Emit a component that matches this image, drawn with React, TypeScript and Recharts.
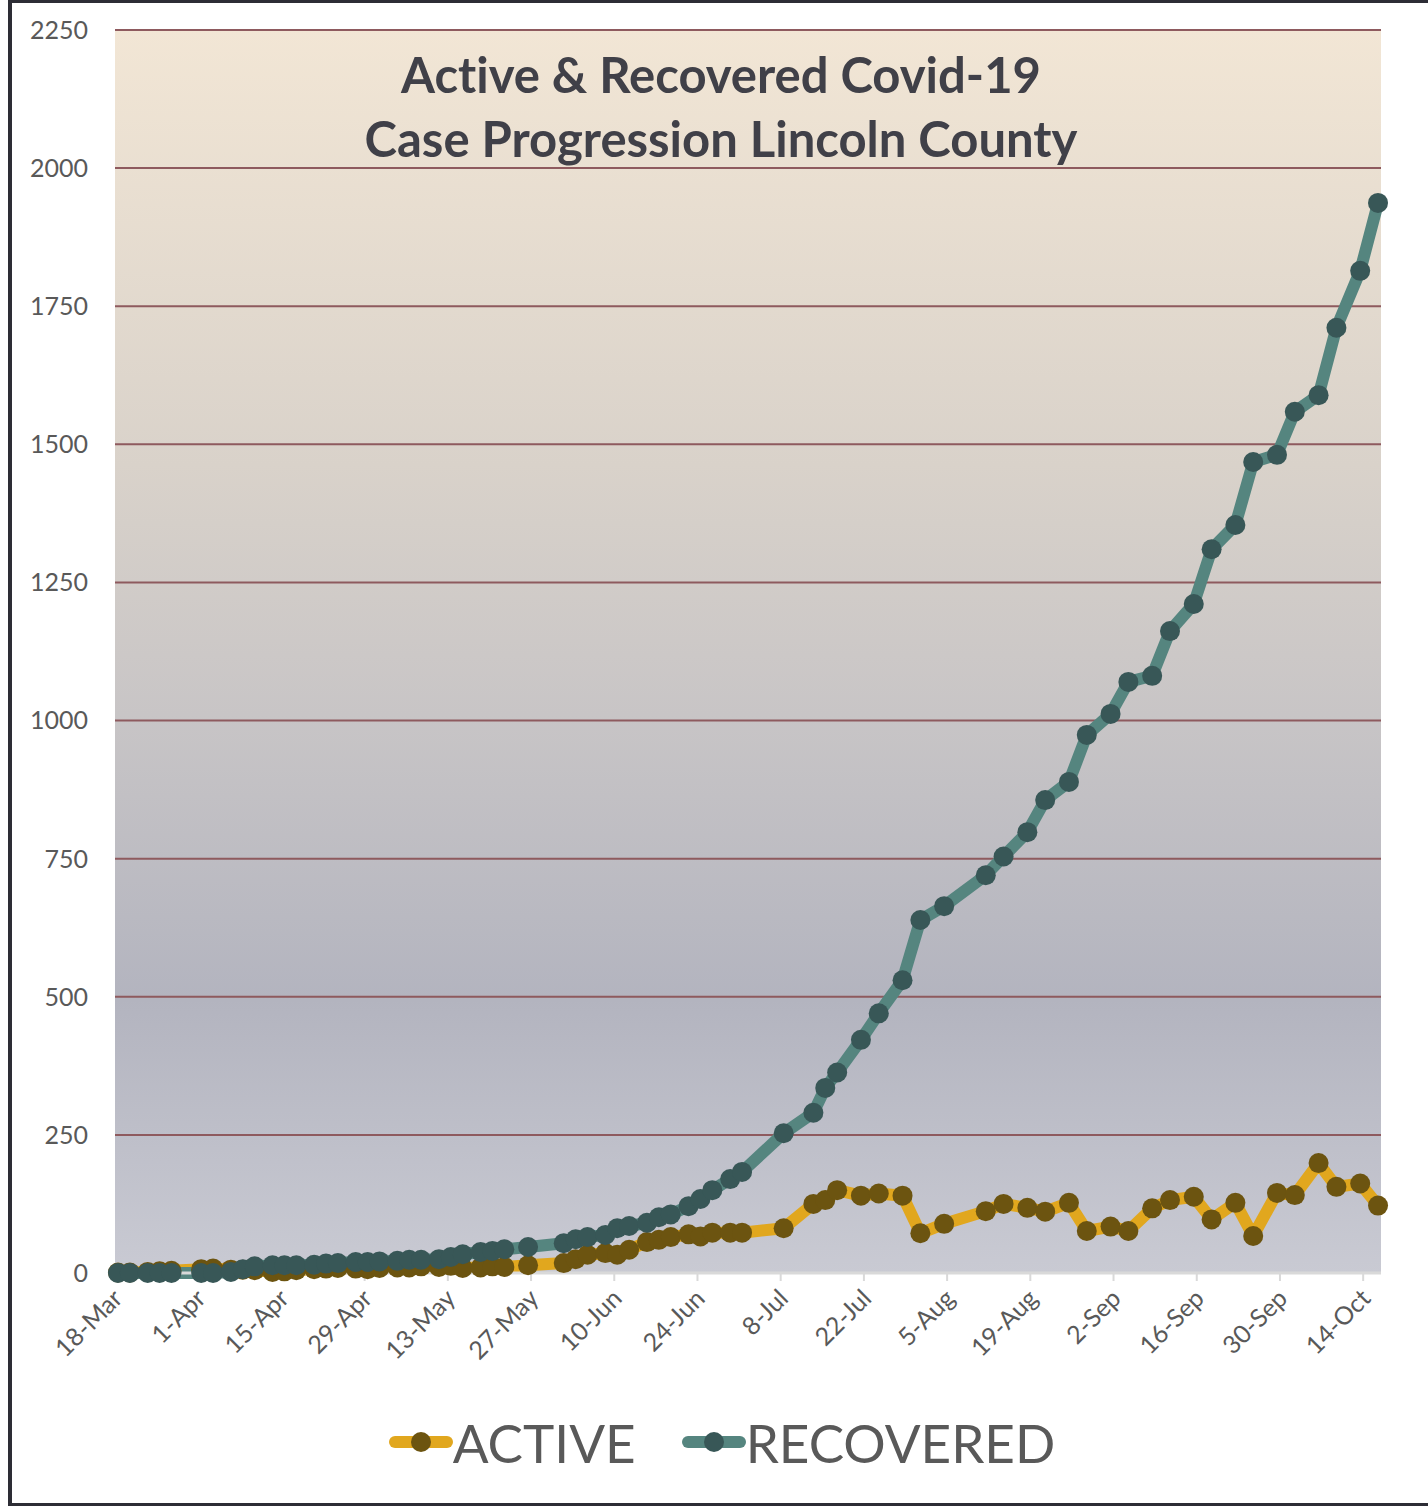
import { LineChart, Line, XAxis, YAxis, CartesianGrid, Legend } from "recharts";

// report dates (Mon/Wed/Fri, later Tue/Fri)
const DATES = [
  "2020-03-18", "2020-03-20", "2020-03-23", "2020-03-25", "2020-03-27",
  "2020-04-01", "2020-04-03", "2020-04-06", "2020-04-08", "2020-04-10",
  "2020-04-13", "2020-04-15", "2020-04-17", "2020-04-20", "2020-04-22",
  "2020-04-24", "2020-04-27", "2020-04-29", "2020-05-01", "2020-05-04",
  "2020-05-06", "2020-05-08", "2020-05-11", "2020-05-13", "2020-05-15",
  "2020-05-18", "2020-05-20", "2020-05-22", "2020-05-26", "2020-06-01",
  "2020-06-03", "2020-06-05", "2020-06-08", "2020-06-10", "2020-06-12",
  "2020-06-15", "2020-06-17", "2020-06-19", "2020-06-22", "2020-06-24",
  "2020-06-26", "2020-06-29", "2020-07-01", "2020-07-08", "2020-07-13",
  "2020-07-15", "2020-07-17", "2020-07-21", "2020-07-24", "2020-07-28",
  "2020-07-31", "2020-08-04", "2020-08-11", "2020-08-14", "2020-08-18",
  "2020-08-21", "2020-08-25", "2020-08-28", "2020-09-01", "2020-09-04",
  "2020-09-08", "2020-09-11", "2020-09-15", "2020-09-18", "2020-09-22",
  "2020-09-25", "2020-09-29", "2020-10-02", "2020-10-06", "2020-10-09",
  "2020-10-13", "2020-10-16",
];

const ACTIVE = [
  1, 1, 2, 3, 4,
  7, 8, 6, 6, 5,
  2, 3, 5, 7, 8,
  9, 8, 7, 9, 10,
  10, 12, 11, 13, 9,
  10, 12, 11, 14, 18,
  25, 33, 36, 33, 42,
  56, 60, 65, 70, 66,
  73, 73, 73, 81, 125,
  132, 150, 140, 144, 140,
  72, 89, 112, 125, 118,
  111, 127, 76, 84, 76,
  117, 132, 138, 97, 127,
  67, 145, 141, 199, 156,
  162, 122,
];

const RECOVERED = [
  0, 0, 0, 0, 0,
  0, 0, 2, 7, 12,
  14, 14, 14, 15, 17,
  18, 20, 20, 21, 22,
  24, 24, 25, 29, 34,
  38, 40, 43, 47, 54,
  61, 65, 69, 81, 85,
  91, 101, 106, 121, 134,
  150, 170, 183, 253, 290,
  335, 363, 422, 470, 530,
  639, 664, 720, 754, 798,
  856, 889, 974, 1012, 1070,
  1081, 1162, 1211, 1310, 1354,
  1468, 1481, 1559, 1589, 1711,
  1814, 1937,
];

// date axis ticks every 14 days from 18-Mar
const TICK_LABELS = [
  "18-Mar", "1-Apr", "15-Apr", "29-Apr", "13-May", "27-May", "10-Jun", "24-Jun",
  "8-Jul", "22-Jul", "5-Aug", "19-Aug", "2-Sep", "16-Sep", "30-Sep", "14-Oct",
];
const Y_TICKS = [0, 250, 500, 750, 1000, 1250, 1500, 1750, 2000, 2250];

const START = Date.parse(DATES[0]);
const DAY_MS = 86400000;
// Excel date axis puts each point in the middle of its day
const data = DATES.map((d, i) => ({
  day: Math.round((Date.parse(d) - START) / DAY_MS) + 0.5,
  active: ACTIVE[i],
  recovered: RECOVERED[i],
}));
const xTicks = TICK_LABELS.map((_, i) => i * 14);

const SERIES = [
  { key: "active", name: "ACTIVE", line: "#e1a71e", dot: "#6c5410" },
  { key: "recovered", name: "RECOVERED", line: "#55857f", dot: "#385757" },
];

const FONT = "Lato, 'Open Sans', sans-serif";
const FRAME = "#2d2d35";

function DateTick({ x, y, payload }: any) {
  const label = TICK_LABELS[Math.round(payload.value / 14)];
  const px = x + 9;
  const py = y + 17;
  return (
    <text
      x={px}
      y={py}
      transform={`rotate(-45, ${px}, ${py})`}
      textAnchor="end"
      fill="#595959"
      fontSize={25}
      fontFamily={FONT}
    >
      {label}
    </text>
  );
}

function renderLegend() {
  return (
    <div
      style={{
        height: 110,
        boxSizing: "border-box",
        paddingBottom: 20,
        display: "flex",
        justifyContent: "center",
        alignItems: "center",
        fontFamily: FONT,
      }}
    >
      {SERIES.map((s, i) => (
        <div key={s.key} style={{ display: "flex", alignItems: "center", marginLeft: i ? 46 : 0 }}>
          <svg width={64} height={26}>
            <line x1={6} y1={13} x2={58} y2={13} stroke={s.line} strokeWidth={12} strokeLinecap="round" />
            <circle cx={32} cy={13} r={10} fill={s.dot} />
          </svg>
          <span style={{ fontSize: 53, lineHeight: 1, color: "#595959" }}>{s.name}</span>
        </div>
      ))}
    </div>
  );
}

export default function App() {
  return (
    <div style={{ position: "absolute", left: 0, top: 0, width: 1428, height: 1507, background: "#fff", overflow: "hidden" }}>
      {/* frame edges: left, top, bottom */}
      <div style={{ position: "absolute", left: 8, top: 0, width: 4, height: 1506, background: FRAME }} />
      <div style={{ position: "absolute", left: 8, top: 0, width: 1420, height: 3, background: FRAME }} />
      <div style={{ position: "absolute", left: 8, top: 1503, width: 1420, height: 3, background: FRAME }} />
      <div style={{ position: "absolute", left: 0, top: 0 }}>
        <LineChart width={1428} height={1507} data={data} margin={{ top: 30, right: 47, bottom: 0, left: 0 }}>
          <defs>
            <linearGradient id="plotBg" x1="0" y1="0" x2="0" y2="1">
              <stop offset="0" stopColor="#f2e6d5" />
              <stop offset="0.35" stopColor="#d9d2ca" />
              <stop offset="0.55" stopColor="#c8c5c6" />
              <stop offset="0.78" stopColor="#b3b4bf" />
              <stop offset="1" stopColor="#c9cad3" />
            </linearGradient>
          </defs>
          <CartesianGrid vertical={false} stroke="#8e5a5e" strokeWidth={2} fill="url(#plotBg)" fillOpacity={1} />
          <XAxis
            dataKey="day"
            type="number"
            domain={[0, 213]}
            ticks={xTicks}
            interval={0}
            height={124}
            tickSize={8}
            axisLine={{ stroke: "#d9d9d9", strokeWidth: 3 }}
            tickLine={{ stroke: "#d9d9d9", strokeWidth: 2 }}
            tick={<DateTick />}
          />
          <YAxis
            type="number"
            domain={[0, 2250]}
            ticks={Y_TICKS}
            interval={0}
            width={115}
            axisLine={false}
            tickLine={false}
            tickSize={0}
            tickMargin={27}
            tick={{ fill: "#595959", fontSize: 25, fontFamily: FONT }}
          />
          <Legend verticalAlign="bottom" align="center" content={renderLegend} wrapperStyle={{ left: 0, width: 1444 }} />
          {SERIES.map((s) => (
            <Line
              key={s.key}
              dataKey={s.key}
              name={s.name}
              type="linear"
              stroke={s.line}
              strokeWidth={12}
              strokeLinejoin="round"
              strokeLinecap="round"
              dot={{ r: 10, fill: s.dot, stroke: "none", strokeWidth: 0 }}
              activeDot={false}
              isAnimationActive={false}
            />
          ))}
        </LineChart>
      </div>
      <div
        style={{
          position: "absolute",
          left: 0,
          top: 42,
          width: 1442,
          textAlign: "center",
          fontFamily: FONT,
          fontWeight: 700,
          fontSize: 49,
          lineHeight: "64px",
          fontVariantLigatures: "none",
          color: "#404048",
          pointerEvents: "none",
        }}
      >
        Active &amp; Recovered Covid-19
        <br />
        Case Progression Lincoln County
      </div>
    </div>
  );
}
